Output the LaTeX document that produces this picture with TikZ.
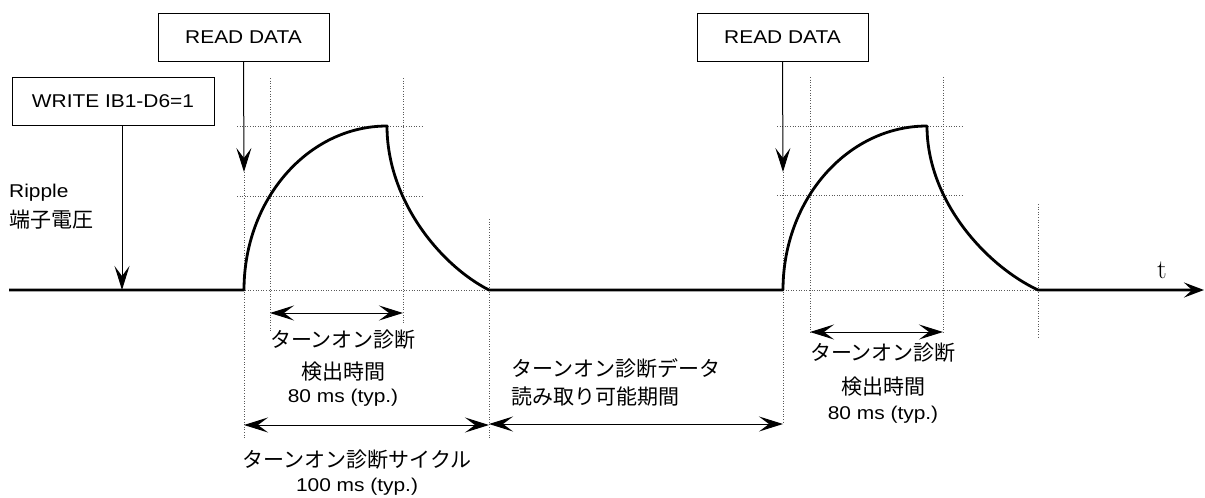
\documentclass[tikz,border=0pt]{standalone}
\usepackage{fontspec}
\setmainfont{Liberation Sans}[FakeStretch=1.13]
\newfontfamily\jpfam{Noto Sans CJK JP}
\usetikzlibrary{arrows.meta}
\newcommand\LatTxt{\fontsize{18.5}{22}\selectfont}
\newcommand\JpTxt{\jpfam\fontsize{21}{25}\selectfont}
\begin{document}
\begin{tikzpicture}[x=1pt,y=-1pt,
  wave/.style={line width=2.8pt, line join=round},
  guide/.style={line width=0.8pt, black!65, dash pattern=on 1pt off 1.6pt},
  conn/.style={line width=1pt, -{Stealth[length=24pt,width=15pt,inset=10pt]}},
  dim/.style={line width=1pt, {Stealth[length=24pt,width=15pt,inset=10pt]}-{Stealth[length=24pt,width=15pt,inset=10pt]}},
  cmdbox/.style={draw, line width=1pt, minimum height=48pt, inner sep=0pt, font=\LatTxt},
  lat/.style={font=\LatTxt, inner sep=0pt},
  jp/.style={font=\JpTxt, inner sep=0pt}]
\useasboundingbox (0,0) rectangle (1205,498);

% guides pulse 1
\draw[guide] (237,126) -- (423,126);
\draw[guide] (237,196) -- (423,196);
\draw[guide] (240,290) -- (489,290);
\draw[guide] (244,172) -- (244,438);
\draw[guide] (270,78) -- (270,332);
\draw[guide] (403,78) -- (403,323);
\draw[guide] (489,219) -- (489,440);
% guides pulse 2
\draw[guide] (777,126) -- (963,126);
\draw[guide] (777,195) -- (963,195);
\draw[guide] (783,290) -- (1038,290);
\draw[guide] (783,172) -- (783,423);
\draw[guide] (810,77) -- (810,333);
\draw[guide] (943,77) -- (943,333);
\draw[guide] (1038,204) -- (1038,338);

% waveform
\draw[wave, -{Stealth[length=20pt,width=15pt,inset=8pt]}]
  (9,290) -- (244,290)
  .. controls (244,199.4) and (308,126) .. (387,126)
  .. controls (387,200) and (440,265) .. (489,290)
  -- (783,290)
  .. controls (783,199.4) and (847.5,126) .. (927,126)
  .. controls (927,200) and (985,265) .. (1038,290)
  -- (1204,290);
\node[font=\fontspec{Latin Modern Roman}\fontsize{27}{30}\selectfont, inner sep=0pt] (t) at (1162,270) {t};

% command boxes
\node[cmdbox, minimum width=202pt] (w) at (113,101) {WRITE IB1-D6=1};
\node[cmdbox, minimum width=171pt] (r1) at (243.5,37) {READ DATA};
\node[cmdbox, minimum width=171pt] (r2) at (782.5,37) {READ DATA};
\coordinate (wtop) at (122,125);
\coordinate (wtip) at (122,290);
\coordinate (r1tip) at (244,172);
\coordinate (r2tip) at (783,172);
\draw[conn] (wtop) -- (wtip);
\draw[conn] (r1.south) -- (r1tip);
\draw[conn] (r2.south) -- (r2tip);

% signal label
\node[lat, anchor=west] (rip) at (9,193) {Ripple};
\node[jp, anchor=west] (rip2) at (9,220) {端子電圧};

% dimension arrows
\coordinate (a1) at (270,313); \coordinate (a2) at (403,313);
\coordinate (b1) at (244,425); \coordinate (b2) at (489,425);
\coordinate (c1) at (489,424); \coordinate (c2) at (783,424);
\coordinate (d1) at (810,332); \coordinate (d2) at (943,332);
\draw[dim] (a1) -- (a2);
\draw[dim] (b1) -- (b2);
\draw[dim] (c1) -- (c2);
\draw[dim] (d1) -- (d2);

% texts
\node[jp] (ta1) at (343,340) {ターンオン診断};
\node[jp] (ta2) at (343,372) {検出時間};
\node[lat] (ta3) at (343,398) {80 ms (typ.)};
\node[jp] (tb1) at (357,460) {ターンオン診断サイクル};
\node[lat] (tb2) at (357,487) {100 ms (typ.)};
\node[jp, anchor=west] (tc1) at (511,368) {ターンオン診断データ};
\node[jp, anchor=west] (tc2) at (511,397) {読み取り可能期間};
\node[jp] (td1) at (883,353) {ターンオン診断};
\node[jp] (td2) at (883,387) {検出時間};
\node[lat] (td3) at (883,415) {80 ms (typ.)};
\end{tikzpicture}
\end{document}
